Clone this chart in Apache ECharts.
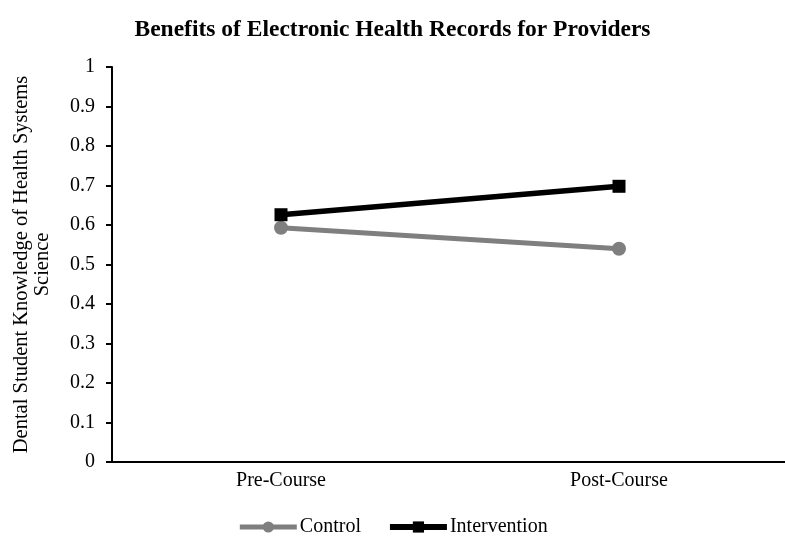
<!DOCTYPE html>
<html>
<head>
<meta charset="utf-8">
<script src="https://cdn.jsdelivr.net/npm/echarts@6/dist/echarts.min.js"></script>
<style>
  html, body { margin: 0; padding: 0; background: #fff; }
  #chart { width: 785px; height: 537px; }
</style>
</head>
<body>
<div id="chart"></div>
<script>
// Mean knowledge scores before and after the course
const categories = ['Pre-Course', 'Post-Course'];
const controlScores = [0.593, 0.540];
const interventionScores = [0.626, 0.698];
const yTicks = { min: 0, max: 1, interval: 0.1 };

const serif = '"Liberation Serif", "Times New Roman", serif';
const chart = echarts.init(document.getElementById('chart'));

chart.setOption({
  backgroundColor: '#ffffff',
  animation: false,
  title: {
    text: 'Benefits of Electronic Health Records for Providers',
    left: 'center',
    top: 13,
    textStyle: { fontFamily: serif, fontWeight: 'bold', fontSize: 23.5, color: '#000' }
  },
  legend: {
    top: 512,
    left: 'center',
    itemWidth: 57,
    itemHeight: 14,
    itemGap: 26,
    textStyle: { fontFamily: serif, fontSize: 20, color: '#000', padding: [0, 0, 0, -2] },
    data: [
      { name: 'Control', lineStyle: { width: 5, color: '#7f7f7f' } },
      { name: 'Intervention', lineStyle: { width: 6, color: '#000000' } }
    ]
  },
  grid: { left: 112, width: 676, top: 67, bottom: 75, containLabel: false, outerBoundsMode: 'none' },
  xAxis: {
    type: 'category',
    data: categories,
    boundaryGap: true,
    axisLine: { lineStyle: { color: '#000', width: 2 } },
    axisTick: { show: false },
    axisLabel: { fontFamily: serif, fontSize: 20, color: '#000', margin: 9 },
    splitLine: { show: false }
  },
  yAxis: {
    type: 'value',
    min: yTicks.min,
    max: yTicks.max,
    interval: yTicks.interval,
    name: 'Dental Student Knowledge of Health Systems\nScience',
    nameLocation: 'middle',
    nameGap: 59,
    nameRotate: 90,
    nameTextStyle: { fontFamily: serif, fontSize: 20.5, color: '#000', lineHeight: 21 },
    axisLine: { show: true, lineStyle: { color: '#000', width: 2 } },
    axisTick: { show: true, inside: false, length: 6, lineStyle: { color: '#000', width: 2 } },
    axisLabel: { fontFamily: serif, fontSize: 20, color: '#000', margin: 17 },
    splitLine: { show: false }
  },
  series: [
    {
      name: 'Control',
      type: 'line',
      data: controlScores,
      symbol: 'circle',
      symbolSize: 14,
      lineStyle: { color: '#7f7f7f', width: 5 },
      itemStyle: { color: '#7f7f7f' }
    },
    {
      name: 'Intervention',
      type: 'line',
      data: interventionScores,
      symbol: 'rect',
      symbolSize: 13,
      lineStyle: { color: '#000000', width: 5.5 },
      itemStyle: { color: '#000000' }
    }
  ]
});
</script>
</body>
</html>
